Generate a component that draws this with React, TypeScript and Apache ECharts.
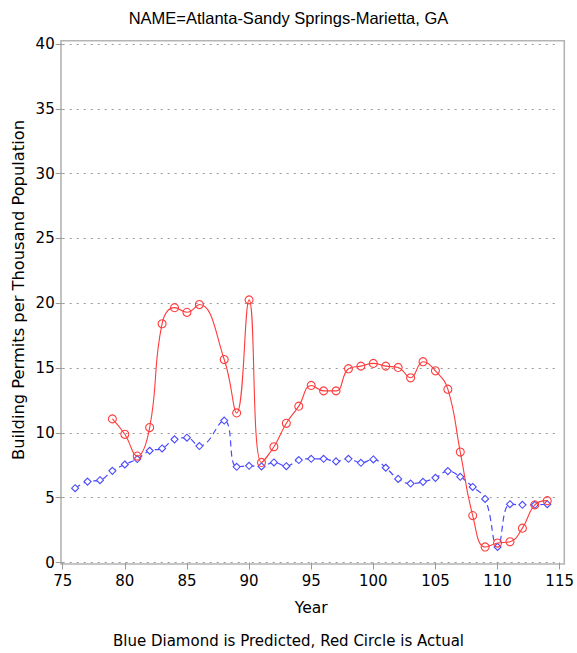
import React, { useEffect, useRef } from "react";
import * as echarts from "echarts";

// Years on the x axis (two-digit offsets, 76 = 1976 ... 114 = 2014)
const years: number[] = [
  76, 77, 78, 79, 80, 81, 82, 83, 84, 85, 86, 87, 88, 89, 90, 91, 92, 93, 94, 95,
  96, 97, 98, 99, 100, 101, 102, 103, 104, 105, 106, 107, 108, 109, 110, 111, 112, 113, 114,
];

// Predicted permits per thousand population (blue diamonds)
const predicted: (number | null)[] = [
  5.73, 6.24, 6.35, 7.07, 7.56, 7.98, 8.62, 8.8, 9.5, 9.63, 8.98, null, 10.95, 7.38, 7.46, 7.41, 7.72, 7.43, 7.9, 8.0,
  8.0, 7.8, 8.0, 7.69, 7.95, 7.31, 6.45, 6.09, 6.22, 6.53, 7.05, 6.61, 5.83, 4.9, 1.2, 4.5, 4.45, 4.45, 4.5,
];

// Actual permits per thousand population (red circles)
const actual: (number | null)[] = [
  null, null, null, 11.08, 9.89, 8.21, 10.41, 18.42, 19.66, 19.3, 19.9, null, 15.66, 11.54, 20.26, 7.72, 8.93, 10.74, 12.06, 13.66,
  13.24, 13.24, 14.95, 15.15, 15.36, 15.15, 15.05, 14.25, 15.49, 14.79, 13.37, 8.52, 3.62, 1.2, 1.5, 1.6, 2.65, 4.45, 4.77,
];

const xTicks = { min: 75, max: 115, step: 5 };
const yTicks = { min: 0, max: 40, step: 5 };

const TITLE = "NAME=Atlanta-Sandy Springs-Marietta, GA";
const FOOTNOTE = "Blue Diamond is Predicted, Red Circle is Actual";
const X_NAME = "Year";
const Y_NAME = "Building Permits per Thousand Population";

const W = 577;
const H = 653;
const GRID = { left: 62.7, right: 14.3, top: 44, bottom: 90.5 };

const RED = "#ff3b3b";
const BLUE = "#4a4aff";
const AXIS_FONT = "DejaVu Sans";

export default function App() {
  const ref = useRef<HTMLDivElement>(null);

  useEffect(() => {
    if (!ref.current) return;
    const chart = echarts.init(ref.current, undefined, { renderer: "svg" });

    const pair = (vals: (number | null)[]) =>
      years.map((y, i) => [y, vals[i]] as [number, number | null]);

    chart.setOption({
      animation: false,
      backgroundColor: "#ffffff",
      title: [
        {
          text: TITLE,
          left: "center",
          top: 4,
          textStyle: { fontFamily: "Liberation Sans", fontSize: 16.5, fontWeight: "normal", color: "#000" },
        },
        {
          text: FOOTNOTE,
          left: "center",
          top: 628,
          textStyle: { fontFamily: AXIS_FONT, fontSize: 15, fontWeight: "normal", color: "#000" },
        },
      ],
      grid: { ...GRID, containLabel: false },
      xAxis: {
        type: "value",
        min: xTicks.min,
        max: xTicks.max,
        interval: xTicks.step,
        name: X_NAME,
        nameLocation: "middle",
        nameGap: 37,
        nameTextStyle: { fontFamily: AXIS_FONT, fontSize: 15.5, color: "#000" },
        axisLine: { show: false },
        axisTick: { show: true, length: 7, lineStyle: { color: "#999", width: 1 } },
        axisLabel: { fontFamily: AXIS_FONT, fontSize: 15, color: "#000", margin: 11 },
        splitLine: { show: false },
      },
      yAxis: {
        type: "value",
        min: yTicks.min,
        max: yTicks.max,
        interval: yTicks.step,
        axisLine: { show: false },
        axisTick: { show: true, length: 7, lineStyle: { color: "#999", width: 1 } },
        axisLabel: { fontFamily: AXIS_FONT, fontSize: 15, color: "#000", margin: 8 },
        splitLine: { show: true, lineStyle: { color: "#9a9a9a", type: [2, 5], width: 1 } },
      },
      graphic: [
        {
          type: "rect",
          shape: { x: 61, y: 40.7, width: 503.3, height: 523.3 },
          style: { fill: "none", stroke: "#b4b4b4", lineWidth: 1.6 },
          silent: true,
          z: 0,
        },
        {
          // vertical axis title
          type: "text",
          x: 18,
          y: 290,
          rotation: Math.PI / 2,
          silent: true,
          style: {
            text: Y_NAME,
            fontFamily: AXIS_FONT,
            fontSize: 16.3,
            fill: "#000",
            align: "center",
            verticalAlign: "middle",
          },
        },
      ],
      series: [
        {
          type: "line",
          name: "Predicted",
          data: pair(predicted),
          connectNulls: true,
          smooth: 0.45,
          symbol: "diamond",
          symbolSize: 7,
          showSymbol: true,
          itemStyle: { color: "#fff", borderColor: BLUE, borderWidth: 1.1 },
          lineStyle: { color: BLUE, width: 1.2, type: [6, 4] },
          z: 3,
        },
        {
          type: "line",
          name: "Actual",
          data: pair(actual),
          connectNulls: true,
          smooth: 0.45,
          symbol: "circle",
          symbolSize: 8,
          showSymbol: true,
          itemStyle: { color: "rgba(255,255,255,0)", borderColor: RED, borderWidth: 1.1 },
          lineStyle: { color: RED, width: 1.1 },
          z: 4,
        },
      ],
    });

    return () => chart.dispose();
  }, []);

  return (
    <div
      ref={ref}
      style={{ position: "fixed", left: 0, top: 0, width: W, height: H, overflow: "visible" }}
    />
  );
}
